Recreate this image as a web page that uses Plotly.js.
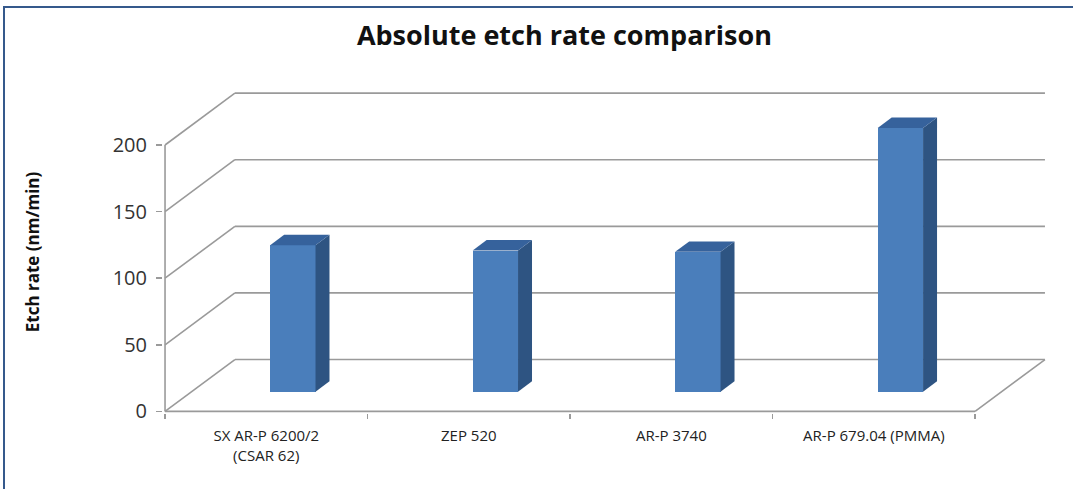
<!DOCTYPE html>
<html>
<head>
<meta charset="utf-8">
<script src="https://cdn.plot.ly/plotly-3.0.1.min.js"></script>
<style>
  html, body { margin: 0; padding: 0; background: #ffffff; overflow: hidden; }
  #chart { width: 1073px; height: 489px; position: absolute; left: 0; top: 0; }
  #frame { position: absolute; left: 3px; top: 6px; width: 1090px; height: 500px;
           border-top: 2px solid #35598c; border-left: 2px solid #35598c; pointer-events: none; }
</style>
</head>
<body>
<div id="chart"></div>
<div id="frame"></div>
<script>
// ---- data ----
const categories = ["SX AR-P 6200/2<br>(CSAR 62)", "ZEP 520", "AR-P 3740", "AR-P 679.04 (PMMA)"];
const etchRates = [110, 106, 105, 198];
const yTickValues = [0, 50, 100, 150, 200];
const yTickLabels = ["0", "50", "100", "150", "200"];

// ---- oblique projection of the 3-D box (in axis units) ----
const DEPTH_X = 0.345;   // category units shift for full depth
const DEPTH_Y = 38.95;   // value units shift for full depth
const BAR_D0 = 0.38;     // bar front plane (fraction of depth)
const BAR_D1 = 0.58;     // bar back plane
const BAR_HALF = 0.112;  // half width of bar front face (category units)
const N = categories.length;
const YMAX = yTickValues[yTickValues.length - 1];

const gridColor = "#9a9a9a";
const shapes = [];
function seg(x0, y0, x1, y1) {
  shapes.push({type: "line", xref: "x", yref: "y", layer: "below",
    x0: x0, y0: y0, x1: x1, y1: y1, line: {color: gridColor, width: 1.6}});
}
yTickValues.forEach(v => {
  seg(DEPTH_X, v + DEPTH_Y, N + DEPTH_X, v + DEPTH_Y); // back wall
  seg(0, v, DEPTH_X, v + DEPTH_Y);                     // side wall
});
seg(0, 0, 0, YMAX);                 // front vertical axis
seg(0, 0, N, 0);                    // floor front edge
seg(N, 0, N + DEPTH_X, DEPTH_Y);    // floor right edge

// ---- bars ----
const barX = categories.map((c, i) => i + 0.5 + BAR_D0 * DEPTH_X);
const barBase = BAR_D0 * DEPTH_Y;
const ddx = (BAR_D1 - BAR_D0) * DEPTH_X;
const ddy = (BAR_D1 - BAR_D0) * DEPTH_Y;

const traces = [];
traces.push({
  type: "bar", x: barX, y: etchRates, base: categories.map(() => barBase),
  width: 2 * BAR_HALF, marker: {color: "#4a7ebb", line: {width: 0}},
  hoverinfo: "skip", showlegend: false
});
etchRates.forEach((v, i) => {
  const xl = barX[i] - BAR_HALF, xr = barX[i] + BAR_HALF;
  const top = barBase + v;
  traces.push({ // side face
    type: "scatter", mode: "lines", fill: "toself", fillcolor: "#2e5482",
    line: {width: 0, color: "#2e5482"},
    x: [xr, xr + ddx, xr + ddx, xr, xr],
    y: [barBase, barBase + ddy, top + ddy, top, barBase],
    hoverinfo: "skip", showlegend: false
  });
  traces.push({ // top face
    type: "scatter", mode: "lines", fill: "toself", fillcolor: "#36629c",
    line: {width: 0, color: "#36629c"},
    x: [xl, xr, xr + ddx, xl + ddx, xl],
    y: [top, top, top + ddy, top + ddy, top],
    hoverinfo: "skip", showlegend: false
  });
});

const font = "Open Sans, Liberation Sans, Arial, sans-serif";
const layout = {
  width: 1073, height: 489,
  margin: {l: 163, r: 25, t: 91, b: 76},
  paper_bgcolor: "#ffffff", plot_bgcolor: "rgba(0,0,0,0)",
  showlegend: false,
  title: {text: "<b>Absolute etch rate comparison</b>", font: {family: font, size: 27, color: "#111111"},
          x: 0.526, xref: "container", y: 0.927, yref: "container", xanchor: "center", yanchor: "middle"},
  xaxis: {
    range: [-0.01, N + DEPTH_X + 0.015], showgrid: false, zeroline: false, showline: false,
    tickmode: "array", tickvals: categories.map((c, i) => i + 0.5), ticktext: categories,
    ticks: "", ticklabelstandoff: 12,
    tickfont: {family: font, size: 15, color: "#222222"},
    minor: {ticks: "outside", tick0: 0, dtick: 1, ticklen: 5, tickwidth: 1.5, tickcolor: gridColor, showgrid: false},
    fixedrange: true
  },
  yaxis: {
    range: [-1.2, YMAX + DEPTH_Y + 1.6], showgrid: false, zeroline: false, showline: false,
    tickmode: "array", tickvals: yTickValues, ticktext: yTickLabels,
    ticks: "outside", ticklen: 6, tickwidth: 1.5, tickcolor: gridColor,
    ticklabelstandoff: 5,
    tickfont: {family: font, size: 20, color: "#333333"},
    title: {text: "<b>Etch rate (nm/min)</b>", font: {family: font, size: 17, color: "#111111"}, standoff: 68},
    fixedrange: true
  },
  shapes: shapes,
  bargap: 0
};
Plotly.newPlot("chart", traces, layout, {displayModeBar: false, staticPlot: true});
</script>
</body>
</html>
